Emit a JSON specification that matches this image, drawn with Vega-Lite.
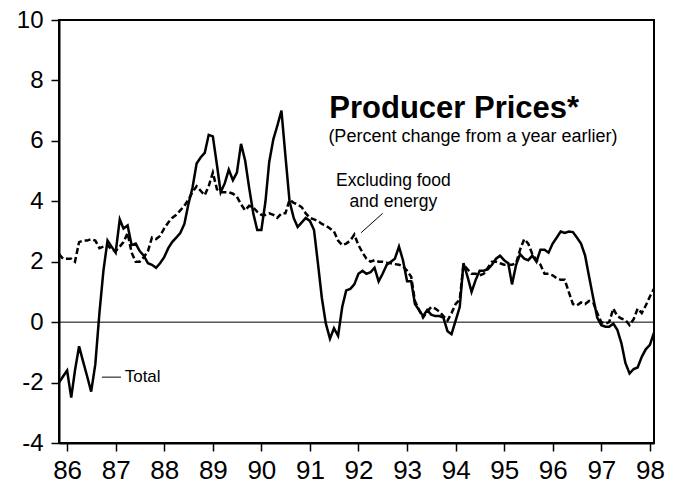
{
"$schema": "https://vega.github.io/schema/vega-lite/v6.json",
"width": 595, "height": 423,
"autosize": {"type": "none"},
"padding": {"left": 59, "top": 20, "right": 24, "bottom": 46},
"background": "white",
"config": {
  "view": {"stroke": "black", "strokeWidth": 2},
  "font": "Liberation Sans",
  "axis": {"domainColor": "black", "domainWidth": 2, "tickColor": "black", "tickWidth": 1.5, "tickSize": 8, "labelColor": "black", "labelFont": "Liberation Sans", "grid": false, "title": null}
},
"data": {"values": [
{"m":"1985-11-01","total":-2.0,"core":2.25},{"m":"1985-12-01","total":-1.8,"core":2.1},
{"m":"1986-01-01","total":-1.6,"core":2.1},{"m":"1986-02-01","total":-2.5,"core":2.1},{"m":"1986-03-01","total":-1.6,"core":2.0},{"m":"1986-04-01","total":-0.8,"core":2.65},{"m":"1986-05-01","total":-1.3,"core":2.7},{"m":"1986-06-01","total":-1.8,"core":2.7},{"m":"1986-07-01","total":-2.3,"core":2.75},{"m":"1986-08-01","total":-1.4,"core":2.7},{"m":"1986-09-01","total":0.3,"core":2.45},{"m":"1986-10-01","total":1.7,"core":2.5},{"m":"1986-11-01","total":2.7,"core":2.55},{"m":"1986-12-01","total":2.5,"core":2.4},
{"m":"1987-01-01","total":2.3,"core":2.35},{"m":"1987-02-01","total":3.4,"core":2.5},{"m":"1987-03-01","total":3.1,"core":2.65},{"m":"1987-04-01","total":3.2,"core":2.95},{"m":"1987-05-01","total":2.55,"core":2.3},{"m":"1987-06-01","total":2.6,"core":2.0},{"m":"1987-07-01","total":2.35,"core":2.0},{"m":"1987-08-01","total":2.2,"core":2.15},{"m":"1987-09-01","total":1.95,"core":2.35},{"m":"1987-10-01","total":1.9,"core":2.8},{"m":"1987-11-01","total":1.8,"core":2.75},{"m":"1987-12-01","total":1.95,"core":2.85},
{"m":"1988-01-01","total":2.15,"core":3.1},{"m":"1988-02-01","total":2.45,"core":3.3},{"m":"1988-03-01","total":2.65,"core":3.45},{"m":"1988-04-01","total":2.8,"core":3.55},{"m":"1988-05-01","total":2.95,"core":3.7},{"m":"1988-06-01","total":3.25,"core":3.85},{"m":"1988-07-01","total":3.9,"core":4.05},{"m":"1988-08-01","total":4.45,"core":4.3},{"m":"1988-09-01","total":5.25,"core":4.5},{"m":"1988-10-01","total":5.45,"core":4.35},{"m":"1988-11-01","total":5.6,"core":4.2},{"m":"1988-12-01","total":6.2,"core":4.5},
{"m":"1989-01-01","total":6.15,"core":4.95},{"m":"1989-02-01","total":5.2,"core":4.4},{"m":"1989-03-01","total":4.3,"core":4.3},{"m":"1989-04-01","total":4.6,"core":4.3},{"m":"1989-05-01","total":5.05,"core":4.3},{"m":"1989-06-01","total":4.7,"core":4.25},{"m":"1989-07-01","total":4.95,"core":4.15},{"m":"1989-08-01","total":5.9,"core":3.9},{"m":"1989-09-01","total":5.35,"core":3.7},{"m":"1989-10-01","total":4.45,"core":3.85},{"m":"1989-11-01","total":3.6,"core":3.8},{"m":"1989-12-01","total":3.05,"core":3.65},
{"m":"1990-01-01","total":3.05,"core":3.55},{"m":"1990-02-01","total":4.0,"core":3.55},{"m":"1990-03-01","total":5.3,"core":3.6},{"m":"1990-04-01","total":6.05,"core":3.55},{"m":"1990-05-01","total":6.5,"core":3.45},{"m":"1990-06-01","total":7.0,"core":3.6},{"m":"1990-07-01","total":5.5,"core":3.6},{"m":"1990-08-01","total":4.0,"core":4.05},{"m":"1990-09-01","total":3.45,"core":3.95},{"m":"1990-10-01","total":3.15,"core":3.9},{"m":"1990-11-01","total":3.3,"core":3.8},{"m":"1990-12-01","total":3.45,"core":3.6},
{"m":"1991-01-01","total":3.35,"core":3.45},{"m":"1991-02-01","total":3.05,"core":3.4},{"m":"1991-03-01","total":2.0,"core":3.35},{"m":"1991-04-01","total":0.8,"core":3.25},{"m":"1991-05-01","total":-0.05,"core":3.2},{"m":"1991-06-01","total":-0.55,"core":3.1},{"m":"1991-07-01","total":-0.2,"core":3.0},{"m":"1991-08-01","total":-0.45,"core":2.7},{"m":"1991-09-01","total":0.5,"core":2.55},{"m":"1991-10-01","total":1.05,"core":2.6},{"m":"1991-11-01","total":1.1,"core":2.7},{"m":"1991-12-01","total":1.25,"core":2.9},
{"m":"1992-01-01","total":1.6,"core":2.55},{"m":"1992-02-01","total":1.7,"core":2.3},{"m":"1992-03-01","total":1.6,"core":2.1},{"m":"1992-04-01","total":1.65,"core":2.0},{"m":"1992-05-01","total":1.8,"core":2.05},{"m":"1992-06-01","total":1.35,"core":2.0},{"m":"1992-07-01","total":1.6,"core":2.0},{"m":"1992-08-01","total":1.9,"core":1.97},{"m":"1992-09-01","total":2.0,"core":1.95},{"m":"1992-10-01","total":2.1,"core":1.92},{"m":"1992-11-01","total":2.5,"core":1.9},{"m":"1992-12-01","total":2.05,"core":1.85},
{"m":"1993-01-01","total":1.35,"core":1.7},{"m":"1993-02-01","total":1.35,"core":1.5},{"m":"1993-03-01","total":0.6,"core":0.7},{"m":"1993-04-01","total":0.4,"core":0.4},{"m":"1993-05-01","total":0.2,"core":0.15},{"m":"1993-06-01","total":0.4,"core":0.35},{"m":"1993-07-01","total":0.25,"core":0.5},{"m":"1993-08-01","total":0.2,"core":0.45},{"m":"1993-09-01","total":0.2,"core":0.35},{"m":"1993-10-01","total":0.15,"core":0.2},{"m":"1993-11-01","total":-0.3,"core":0.05},{"m":"1993-12-01","total":-0.4,"core":0.3},
{"m":"1994-01-01","total":0.05,"core":0.6},{"m":"1994-02-01","total":0.5,"core":0.75},{"m":"1994-03-01","total":1.95,"core":1.9},{"m":"1994-04-01","total":1.5,"core":1.75},{"m":"1994-05-01","total":1.0,"core":1.6},{"m":"1994-06-01","total":1.4,"core":1.6},{"m":"1994-07-01","total":1.7,"core":1.55},{"m":"1994-08-01","total":1.7,"core":1.6},{"m":"1994-09-01","total":1.75,"core":1.8},{"m":"1994-10-01","total":1.9,"core":2.0},{"m":"1994-11-01","total":2.1,"core":2.0},{"m":"1994-12-01","total":2.2,"core":1.95},
{"m":"1995-01-01","total":2.05,"core":1.9},{"m":"1995-02-01","total":1.95,"core":1.9},{"m":"1995-03-01","total":1.25,"core":1.9},{"m":"1995-04-01","total":1.9,"core":1.95},{"m":"1995-05-01","total":2.25,"core":2.4},{"m":"1995-06-01","total":2.1,"core":2.75},{"m":"1995-07-01","total":2.05,"core":2.6},{"m":"1995-08-01","total":2.2,"core":2.25},{"m":"1995-09-01","total":2.0,"core":2.05},{"m":"1995-10-01","total":2.4,"core":1.9},{"m":"1995-11-01","total":2.4,"core":1.6},{"m":"1995-12-01","total":2.3,"core":1.6},
{"m":"1996-01-01","total":2.6,"core":1.55},{"m":"1996-02-01","total":2.8,"core":1.45},{"m":"1996-03-01","total":3.0,"core":1.4},{"m":"1996-04-01","total":2.95,"core":1.4},{"m":"1996-05-01","total":3.0,"core":1.0},{"m":"1996-06-01","total":2.98,"core":0.6},{"m":"1996-07-01","total":2.8,"core":0.55},{"m":"1996-08-01","total":2.6,"core":0.65},{"m":"1996-09-01","total":2.2,"core":0.6},{"m":"1996-10-01","total":1.5,"core":0.7},{"m":"1996-11-01","total":0.8,"core":0.65},{"m":"1996-12-01","total":0.15,"core":0.3},
{"m":"1997-01-01","total":-0.1,"core":0.0},{"m":"1997-02-01","total":-0.15,"core":-0.05},{"m":"1997-03-01","total":-0.15,"core":0.0},{"m":"1997-04-01","total":-0.05,"core":0.45},{"m":"1997-05-01","total":-0.25,"core":0.2},{"m":"1997-06-01","total":-0.7,"core":0.12},{"m":"1997-07-01","total":-1.35,"core":0.07},{"m":"1997-08-01","total":-1.7,"core":-0.1},{"m":"1997-09-01","total":-1.55,"core":0.1},{"m":"1997-10-01","total":-1.5,"core":0.45},{"m":"1997-11-01","total":-1.15,"core":0.3},{"m":"1997-12-01","total":-0.9,"core":0.55},
{"m":"1998-01-01","total":-0.75,"core":0.85},{"m":"1998-02-01","total":-0.35,"core":1.1}
]},
"layer": [
  {"data": {"values": [{}]}, "mark": {"type": "rule", "color": "black", "strokeWidth": 1}, "encoding": {"y": {"datum": 0, "type": "quantitative"}}},
  {"mark": {"type": "line", "color": "black", "strokeWidth": 2.5, "strokeDash": [6, 3]},
   "encoding": {
     "x": {"field": "m", "type": "temporal", "scale": {"type": "utc", "nice": false, "domain": [{"year": 1985, "month": 11, "date": 1, "utc": true}, {"year": 1998, "month": 2, "date": 1, "utc": true}]},
       "axis": {"values": [{"year":1986,"month":1,"date":1,"utc":true},{"year":1987,"month":1,"date":1,"utc":true},{"year":1988,"month":1,"date":1,"utc":true},{"year":1989,"month":1,"date":1,"utc":true},{"year":1990,"month":1,"date":1,"utc":true},{"year":1991,"month":1,"date":1,"utc":true},{"year":1992,"month":1,"date":1,"utc":true},{"year":1993,"month":1,"date":1,"utc":true},{"year":1994,"month":1,"date":1,"utc":true},{"year":1995,"month":1,"date":1,"utc":true},{"year":1996,"month":1,"date":1,"utc":true},{"year":1997,"month":1,"date":1,"utc":true},{"year":1998,"month":1,"date":1,"utc":true}],
         "labelExpr": "utcFormat(datum.value, '%y')", "labelFontSize": 26, "labelPadding": 6, "labelFlush": false, "labelOverlap": false}},
     "y": {"field": "core", "type": "quantitative", "scale": {"domain": [-4, 10], "nice": false, "zero": false},
       "axis": {"values": [-4, -2, 0, 2, 4, 6, 8, 10], "labelExpr": "'' + datum.value", "labelFontSize": 24, "labelPadding": 8, "labelFlush": false, "labelOverlap": false}}
   }},
  {"mark": {"type": "line", "color": "black", "strokeWidth": 2.5},
   "encoding": {
     "x": {"field": "m", "type": "temporal"},
     "y": {"field": "total", "type": "quantitative"}
   }},
  {"data": {"values": [{}]}, "mark": {"type": "text", "text": "Producer Prices*", "fontSize": 31, "fontWeight": "bold", "align": "left", "baseline": "alphabetic", "color": "black"},
   "encoding": {"x": {"datum": {"year": 1991, "month": 5, "date": 27, "utc": true}, "type": "temporal"}, "y": {"datum": 6.77, "type": "quantitative"}}},
  {"data": {"values": [{}]}, "mark": {"type": "text", "text": "(Percent change from a year earlier)", "fontSize": 18, "align": "left", "baseline": "alphabetic", "color": "black"},
   "encoding": {"x": {"datum": {"year": 1991, "month": 5, "date": 20, "utc": true}, "type": "temporal"}, "y": {"datum": 5.97, "type": "quantitative"}}},
  {"data": {"values": [{}]}, "mark": {"type": "text", "text": "Excluding food", "fontSize": 17.5, "align": "center", "baseline": "alphabetic", "color": "black"},
   "encoding": {"x": {"datum": {"year": 1992, "month": 9, "date": 20, "utc": true}, "type": "temporal"}, "y": {"datum": 4.5, "type": "quantitative"}}},
  {"data": {"values": [{}]}, "mark": {"type": "text", "text": "and energy", "fontSize": 17.5, "align": "center", "baseline": "alphabetic", "color": "black"},
   "encoding": {"x": {"datum": {"year": 1992, "month": 9, "date": 20, "utc": true}, "type": "temporal"}, "y": {"datum": 3.82, "type": "quantitative"}}},
  {"data": {"values": [{}]}, "mark": {"type": "rule", "color": "black", "strokeWidth": 1},
   "encoding": {"x": {"datum": {"year": 1992, "month": 1, "date": 21, "utc": true}, "type": "temporal"}, "y": {"datum": 2.96, "type": "quantitative"}, "x2": {"datum": {"year": 1992, "month": 7, "date": 1, "utc": true}}, "y2": {"datum": 3.6}}},
  {"data": {"values": [{}]}, "mark": {"type": "rule", "color": "black", "strokeWidth": 1},
   "encoding": {"x": {"datum": {"year": 1986, "month": 9, "date": 20, "utc": true}, "type": "temporal"}, "y": {"datum": -1.82, "type": "quantitative"}, "x2": {"datum": {"year": 1987, "month": 2, "date": 10, "utc": true}}, "y2": {"datum": -1.82}}},
  {"data": {"values": [{}]}, "mark": {"type": "text", "text": "Total", "fontSize": 17, "align": "left", "baseline": "middle", "color": "black"},
   "encoding": {"x": {"datum": {"year": 1987, "month": 3, "date": 10, "utc": true}, "type": "temporal"}, "y": {"datum": -1.82, "type": "quantitative"}}}
]
}
